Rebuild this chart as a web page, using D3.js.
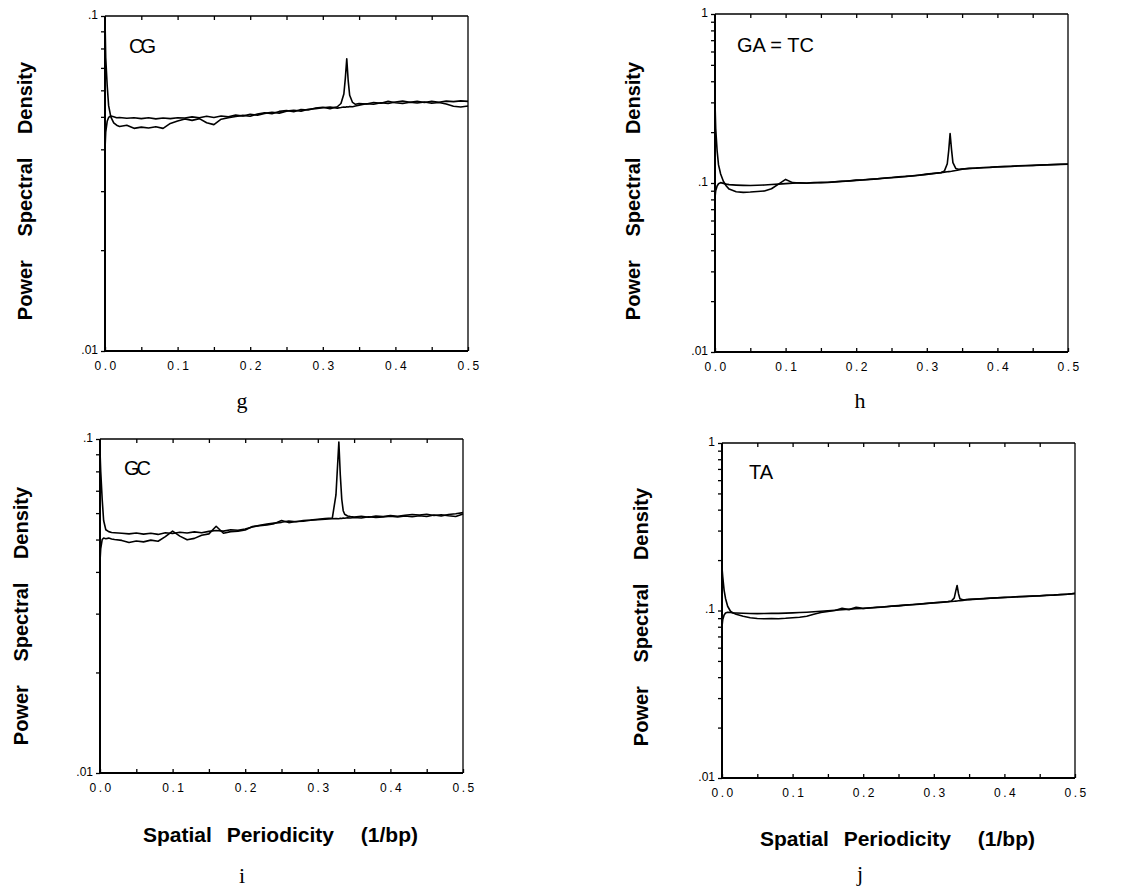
<!DOCTYPE html>
<html>
<head>
<meta charset="utf-8">
<script src="https://cdn.jsdelivr.net/npm/d3@7"></script>
<style>
  body { margin: 0; background: #fff; }
  svg { display: block; }
  .tick text { font-family: "Liberation Sans", Arial, sans-serif; fill: #000; }
  .axisTitle { font-family: "Liberation Sans", Arial, sans-serif; font-weight: bold; fill: #000; }
  .panelTitle { font-family: "Liberation Sans", Arial, sans-serif; fill: #000; }
  .letter { font-family: "Liberation Serif", "Times New Roman", serif; fill: #000; }
</style>
</head>
<body>
<svg id="chart" width="1132" height="890"></svg>
<script>
// spatial periodicity (1/bp), shared by all traces
const xGrid = [0, 0.001, 0.003, 0.005, 0.008, 0.012, 0.016, 0.02,
  0.03, 0.04, 0.05, 0.06, 0.07, 0.08, 0.09, 0.10, 0.11, 0.12, 0.13, 0.14, 0.15,
  0.16, 0.17, 0.18, 0.19, 0.20, 0.21, 0.22, 0.23, 0.24, 0.25, 0.26, 0.27, 0.28,
  0.29, 0.30, 0.31, 0.32, 0.325, 0.329, 0.331, 0.333, 0.335, 0.337, 0.341, 0.345,
  0.35, 0.36, 0.37, 0.38, 0.39, 0.40, 0.41, 0.42, 0.43, 0.44, 0.45, 0.46, 0.47,
  0.48, 0.49, 0.50];

// g: CG
const cgPeak = [0.098, 0.075, 0.062, 0.054, 0.050, 0.048, 0.0472, 0.0468,
  0.0472, 0.0462, 0.0466, 0.0463, 0.0467, 0.0462, 0.0478, 0.0486, 0.0493, 0.0488, 0.0494, 0.0480, 0.0474,
  0.0492, 0.0497, 0.0501, 0.0505, 0.0502, 0.0510, 0.0514, 0.0511, 0.0519, 0.0522, 0.0518, 0.0526, 0.0524,
  0.0531, 0.0534, 0.0529, 0.0536, 0.0548, 0.0585, 0.065, 0.0745, 0.064, 0.058, 0.0552, 0.0545,
  0.0548, 0.0546, 0.0552, 0.0549, 0.0556, 0.0551, 0.0548, 0.0553, 0.0550, 0.0554, 0.0549, 0.0552, 0.0546,
  0.0538, 0.0535, 0.0539];
const cgFlat = [0.040, 0.045, 0.0485, 0.0498, 0.0503, 0.0500, 0.0497, 0.0498,
  0.0495, 0.0497, 0.0494, 0.0497, 0.0493, 0.0496, 0.0494, 0.0497, 0.0496, 0.0500, 0.0497, 0.0502, 0.0498,
  0.0503, 0.0500, 0.0506, 0.0503, 0.0509, 0.0506, 0.0512, 0.0516, 0.0513, 0.0520, 0.0523, 0.0520, 0.0527,
  0.0529, 0.0532, 0.0535, 0.0531, 0.0533, 0.0535, 0.0534, 0.0536, 0.0535, 0.0537, 0.0536, 0.0539,
  0.0542, 0.0547, 0.0545, 0.0551, 0.0548, 0.0554, 0.0557, 0.0553, 0.0556, 0.0552, 0.0556, 0.0553, 0.0557,
  0.0555, 0.0558, 0.0556];

// h: GA = TC
const gaPeak = [0.30, 0.21, 0.155, 0.128, 0.113, 0.102, 0.096, 0.092,
  0.0888, 0.0880, 0.0884, 0.0890, 0.0897, 0.0925, 0.0985, 0.1050, 0.1005, 0.1000, 0.0996, 0.1003, 0.1010,
  0.1007, 0.1015, 0.1022, 0.1030, 0.1036, 0.1042, 0.1050, 0.1058, 0.1066, 0.1075, 0.1083, 0.1092, 0.1100,
  0.1112, 0.1125, 0.1138, 0.1150, 0.118, 0.130, 0.155, 0.196, 0.158, 0.132, 0.122, 0.1205,
  0.1210, 0.1218, 0.1226, 0.1232, 0.1240, 0.1246, 0.1250, 0.1256, 0.1262, 0.1266, 0.1272, 0.1276, 0.1280,
  0.1284, 0.1288, 0.1292];
const gaFlat = [0.082, 0.090, 0.096, 0.099, 0.1005, 0.0995, 0.0985, 0.0978,
  0.0972, 0.0968, 0.0966, 0.0970, 0.0973, 0.0979, 0.0985, 0.0992, 0.0998, 0.1003, 0.1001, 0.1006, 0.1004,
  0.1011, 0.1018, 0.1025, 0.1028, 0.1040, 0.1045, 0.1053, 0.1060, 0.1070, 0.1078, 0.1088, 0.1095, 0.1105,
  0.1116, 0.1128, 0.1140, 0.1152, 0.1160, 0.1165, 0.1168, 0.1170, 0.1173, 0.1177, 0.1185, 0.1195,
  0.1208, 0.1220, 0.1224, 0.1234, 0.1238, 0.1248, 0.1252, 0.1254, 0.1264, 0.1268, 0.1270, 0.1278, 0.1282,
  0.1286, 0.1290, 0.1294];

// i: GC
const gcPeak = [0.092, 0.080, 0.066, 0.057, 0.0535, 0.0528, 0.0525, 0.0524,
  0.0522, 0.0520, 0.0523, 0.0519, 0.0522, 0.0518, 0.0524, 0.0521, 0.0526, 0.0523, 0.0527, 0.0524, 0.0529,
  0.0532, 0.0530, 0.0535, 0.0533, 0.0538, 0.0545, 0.0552, 0.0556, 0.0560, 0.0563, 0.0568, 0.0565, 0.0570,
  0.0572, 0.0575, 0.0578, 0.0580, 0.068, 0.098, 0.078, 0.066, 0.061, 0.0595, 0.0588, 0.0586,
  0.0584, 0.0587, 0.0583, 0.0588, 0.0586, 0.0590, 0.0587, 0.0591, 0.0594, 0.0592, 0.0595, 0.0590, 0.0593,
  0.0589, 0.0586, 0.0596];
const gcFlat = [0.043, 0.047, 0.050, 0.0505, 0.0503, 0.0505, 0.0502, 0.0500,
  0.0497, 0.0490, 0.0495, 0.0492, 0.0498, 0.0494, 0.0510, 0.0530, 0.0512, 0.0499, 0.0504, 0.0515, 0.0520,
  0.0548, 0.0522, 0.0528, 0.0530, 0.0534, 0.0547, 0.0550, 0.0553, 0.0558, 0.0570, 0.0562, 0.0566, 0.0567,
  0.0571, 0.0573, 0.0575, 0.0577, 0.0578, 0.0577, 0.0579, 0.0578, 0.0580, 0.0579, 0.0581, 0.0580,
  0.0582, 0.0580, 0.0585, 0.0582, 0.0584, 0.0587, 0.0584, 0.0588, 0.0585, 0.0589, 0.0586, 0.0592, 0.0588,
  0.0594, 0.0597, 0.0602];

// j: TA
const taPeak = [0.180, 0.160, 0.132, 0.118, 0.106, 0.099, 0.0965, 0.0950,
  0.0925, 0.0905, 0.0895, 0.0892, 0.0895, 0.0893, 0.0898, 0.0905, 0.0912, 0.0925, 0.0950, 0.0972, 0.0988,
  0.1000, 0.1030, 0.1012, 0.1045, 0.1030, 0.1038, 0.1046, 0.1054, 0.1062, 0.1070, 0.1078, 0.1086, 0.1094,
  0.1103, 0.1112, 0.1120, 0.1130, 0.1140, 0.1190, 0.1300, 0.1410, 0.1260, 0.1175, 0.1160, 0.1162,
  0.1166, 0.1172, 0.1178, 0.1185, 0.1192, 0.1198, 0.1203, 0.1208, 0.1214, 0.1219, 0.1225, 0.1231, 0.1237,
  0.1244, 0.1252, 0.1262];
const taFlat = [0.080, 0.088, 0.094, 0.0965, 0.0975, 0.0972, 0.0968, 0.0966,
  0.0963, 0.0960, 0.0958, 0.0960, 0.0962, 0.0961, 0.0965, 0.0968, 0.0972, 0.0976, 0.0982, 0.0990, 0.0996,
  0.1004, 0.1010, 0.1017, 0.1024, 0.1028, 0.1035, 0.1044, 0.1050, 0.1060, 0.1066, 0.1076, 0.1083, 0.1092,
  0.1100, 0.1110, 0.1118, 0.1128, 0.1132, 0.1136, 0.1138, 0.1140, 0.1143, 0.1146, 0.1150, 0.1155,
  0.1162, 0.1170, 0.1175, 0.1183, 0.1190, 0.1196, 0.1201, 0.1210, 0.1212, 0.1221, 0.1223, 0.1233, 0.1235,
  0.1246, 0.1250, 0.1265];

const xTickValues = [0, 0.1, 0.2, 0.3, 0.4, 0.5];
const xTickLabels = ['0.0', '0.1', '0.2', '0.3', '0.4', '0.5'];
const decadeValues = [0.01, 0.1, 1];
const decadeLabels = ['.01', '.1', '1'];
const yTitleWords = ['Power', 'Spectral', 'Density'];
const xTitleWords = ['Spatial', 'Periodicity', '(1/bp)'];

// layout only
const panels = [
  {title: 'CG', series: [cgPeak, cgFlat], yDomain: [0.01, 0.1], box: {x: 105, y: 16, w: 363, h: 335},
   titleAt: [129, 53], titleSpacing: -3, yTitleAt: [32, 191], letter: 'g', letterAt: [242, 408], xTitleY: null},
  {title: 'GA = TC', series: [gaPeak, gaFlat], yDomain: [0.01, 1], box: {x: 715, y: 14, w: 353, h: 338},
   titleAt: [737, 52], titleSpacing: 0, yTitleAt: [640, 191], letter: 'h', letterAt: [860, 408], xTitleY: null},
  {title: 'GC', series: [gcPeak, gcFlat], yDomain: [0.01, 0.1], box: {x: 100, y: 439, w: 363, h: 334},
   titleAt: [124, 475], titleSpacing: -3, yTitleAt: [28, 616], letter: 'i', letterAt: [242, 883], xTitleY: 842},
  {title: 'TA', series: [taPeak, taFlat], yDomain: [0.01, 1], box: {x: 722, y: 443, w: 353, h: 335},
   titleAt: [749, 479], titleSpacing: 0, yTitleAt: [648, 617], letter: 'j', letterAt: [860, 881], xTitleY: 846}
];

const svg = d3.select('#chart');

function drawPanel(p) {
  const b = p.box;
  const g = svg.append('g');
  const sx = d3.scaleLinear().domain([0, 0.5]).range([b.x, b.x + b.w]);
  const sy = d3.scaleLog().domain(p.yDomain).range([b.y + b.h, b.y]);

  // log ticks: every k * decade inside the domain
  let yTicks = [];
  decadeValues.forEach(d => {
    for (let k = 1; k <= 9; k++) {
      const v = d * k;
      if (v >= p.yDomain[0] * 0.999 && v <= p.yDomain[1] * 1.001) yTicks.push(v);
    }
  });
  const yLabel = v => {
    const i = decadeValues.findIndex(d => Math.abs(d - v) < d * 1e-6);
    return i >= 0 ? decadeLabels[i] : '';
  };

  const left = g.append('g')
    .attr('transform', 'translate(' + b.x + ',0)')
    .call(d3.axisLeft(sy).tickValues(yTicks).tickSize(4).tickPadding(3).tickFormat(yLabel));
  left.select('.domain').remove();
  left.selectAll('.tick line').attr('stroke', '#000').attr('stroke-width', 1.3);
  left.selectAll('.tick text').style('font-size', '12px').attr('dy', '0.2em');

  const halfSteps = d3.range(0, 11).map(i => i * 0.05);
  const bottom = g.append('g')
    .attr('transform', 'translate(0,' + (b.y + b.h) + ')')
    .call(d3.axisBottom(sx).tickValues(halfSteps).tickSize(-4).tickPadding(10)
      .tickFormat(v => {
        const i = xTickValues.findIndex(t => Math.abs(t - v) < 1e-6);
        return i >= 0 ? xTickLabels[i] : '';
      }));
  bottom.select('.domain').remove();
  bottom.selectAll('.tick line').attr('stroke', '#000').attr('stroke-width', 1.3);
  bottom.selectAll('.tick text').style('font-size', '12px').style('letter-spacing', '2.5px')
    .attr('dx', '1.2px');

  const top = g.append('g')
    .attr('transform', 'translate(0,' + b.y + ')')
    .call(d3.axisTop(sx).tickValues(halfSteps.slice(1, 10)).tickSize(-4).tickFormat(''));
  top.select('.domain').remove();
  top.selectAll('.tick line').attr('stroke', '#000').attr('stroke-width', 1.3);

  // frame
  g.append('line').attr('x1', b.x).attr('x2', b.x + b.w).attr('y1', b.y).attr('y2', b.y)
    .attr('stroke', '#000').attr('stroke-width', 1.3);
  g.append('line').attr('x1', b.x + b.w).attr('x2', b.x + b.w).attr('y1', b.y).attr('y2', b.y + b.h)
    .attr('stroke', '#000').attr('stroke-width', 1.3);
  g.append('line').attr('x1', b.x).attr('x2', b.x + b.w).attr('y1', b.y + b.h).attr('y2', b.y + b.h)
    .attr('stroke', '#000').attr('stroke-width', 1.8);
  g.append('line').attr('x1', b.x).attr('x2', b.x).attr('y1', b.y).attr('y2', b.y + b.h)
    .attr('stroke', '#000').attr('stroke-width', 2);

  const line = d3.line()
    .x((d, i) => sx(xGrid[i]))
    .y(d => sy(d));
  p.series.forEach(s => {
    g.append('path')
      .datum(s)
      .attr('d', line)
      .attr('fill', 'none')
      .attr('stroke', '#000')
      .attr('stroke-width', 1.6)
      .attr('stroke-linejoin', 'round');
  });

  g.append('text')
    .attr('class', 'panelTitle')
    .attr('x', p.titleAt[0]).attr('y', p.titleAt[1])
    .style('font-size', '20px')
    .style('letter-spacing', p.titleSpacing + 'px')
    .text(p.title);

  const yt = g.append('text')
    .attr('class', 'axisTitle')
    .attr('transform', 'translate(' + p.yTitleAt[0] + ',' + p.yTitleAt[1] + ') rotate(-90)')
    .attr('text-anchor', 'middle')
    .style('font-size', '20px');
  yTitleWords.forEach((w, i) => {
    yt.append('tspan').attr('dx', i ? 18 : 0).text((i ? ' ' : '') + w);
  });

  if (p.xTitleY !== null) {
    const t = g.append('text')
      .attr('class', 'axisTitle')
      .attr('x', b.x + b.w / 2 - 1)
      .attr('y', p.xTitleY)
      .attr('text-anchor', 'middle')
      .style('font-size', '21px');
    const gaps = [0, 9, 21];
    xTitleWords.forEach((w, i) => {
      t.append('tspan').attr('dx', gaps[i]).text((i ? ' ' : '') + w);
    });
  }

  g.append('text')
    .attr('class', 'letter')
    .attr('x', p.letterAt[0]).attr('y', p.letterAt[1])
    .attr('text-anchor', 'middle')
    .style('font-size', '22px')
    .text(p.letter);
}

panels.forEach(drawPanel);
</script>
</body>
</html>
